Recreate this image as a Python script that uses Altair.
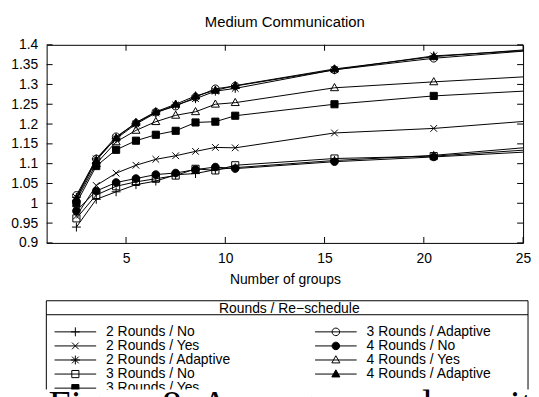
import altair as alt
import pandas as pd

# ---------------- data ----------------
x_groups = [2.5, 3.5, 4.5, 5.5, 6.5, 7.5, 8.5, 9.5, 10.5, 15.5, 20.5, 25]

series_names = [
    "2 Rounds / No", "2 Rounds / Yes", "2 Rounds / Adaptive",
    "3 Rounds / No", "3 Rounds / Yes", "3 Rounds / Adaptive",
    "4 Rounds / No", "4 Rounds / Yes", "4 Rounds / Adaptive",
]

r2_no       = [0.940, 1.010, 1.029, 1.047, 1.056, 1.072, 1.075, 1.085, 1.090, 1.108, 1.121, 1.140]
r2_yes      = [0.968, 1.045, 1.076, 1.096, 1.111, 1.120, 1.131, 1.141, 1.140, 1.1775, 1.189, 1.2065]
r2_adaptive = [1.015, 1.112, 1.163, 1.200, 1.228, 1.248, 1.264, 1.283, 1.290, 1.337, 1.372, 1.385]
r3_no       = [0.962, 1.021, 1.043, 1.054, 1.062, 1.070, 1.087, 1.083, 1.096, 1.113, 1.119, 1.134]
r3_yes      = [1.000, 1.094, 1.135, 1.158, 1.173, 1.183, 1.204, 1.206, 1.221, 1.250, 1.271, 1.283]
r3_adaptive = [1.020, 1.112, 1.168, 1.202, 1.230, 1.245, 1.268, 1.289, 1.296, 1.337, 1.366, 1.384]
r4_no       = [0.981, 1.031, 1.0525, 1.0625, 1.0725, 1.0765, 1.085, 1.0915, 1.0875, 1.105, 1.117, 1.129]
r4_yes      = [1.008, 1.100, 1.155, 1.184, 1.206, 1.222, 1.231, 1.250, 1.254, 1.2915, 1.3065, 1.319]
r4_adaptive = [1.012, 1.108, 1.165, 1.204, 1.231, 1.250, 1.271, 1.285, 1.297, 1.339, 1.370, 1.387]

all_values = [r2_no, r2_yes, r2_adaptive, r3_no, r3_yes, r3_adaptive, r4_no, r4_yes, r4_adaptive]

x_ticks = [5, 10, 15, 20, 25]
y_ticks = [0.9, 0.95, 1.0, 1.05, 1.1, 1.15, 1.2, 1.25, 1.3, 1.35, 1.4]

legend_col = [0, 0, 0, 0, 0, 1, 1, 1, 1]
legend_row = [0, 1, 2, 3, 4, 0, 1, 2, 3]

chart_title = "Medium Communication"
x_title = "Number of groups"
legend_title = "Rounds / Re\u2212schedule"
caption_text = "Figure 8: Average speedup with"

# ---------------- styles ----------------
FONT = "Liberation Sans"
shape_paths = [
    "M-1,0L1,0M0,-1L0,1",                                             # +
    "M-0.75,-0.75L0.75,0.75M-0.75,0.75L0.75,-0.75",                   # x
    "M-1,0L1,0M0,-1L0,1M-0.75,-0.75L0.75,0.75M-0.75,0.75L0.75,-0.75", # *
    "M-0.8,-0.8L0.8,-0.8L0.8,0.8L-0.8,0.8Z",                          # open square
    "M-0.8,-0.8L0.8,-0.8L0.8,0.8L-0.8,0.8Z",                          # filled square
    "M0.85,0A0.85,0.85 0 1,1 -0.85,0A0.85,0.85 0 1,1 0.85,0Z",        # open circle
    "M0.85,0A0.85,0.85 0 1,1 -0.85,0A0.85,0.85 0 1,1 0.85,0Z",        # filled circle
    "M0,-0.95L0.9,0.65L-0.9,0.65Z",                                   # open triangle
    "M0,-0.95L0.9,0.65L-0.9,0.65Z",                                   # filled triangle
]
fill_colors = ["transparent", "transparent", "transparent", "transparent", "black",
               "transparent", "black", "transparent", "black"]

rows = []
for name, vals in zip(series_names, all_values):
    for xv, yv in zip(x_groups, vals):
        rows.append({"series": name, "x": xv, "y": yv})
df = pd.DataFrame(rows)

leg_df = pd.DataFrame({"series": series_names, "col": legend_col, "row": legend_row})

W, H = 481, 200

xs = alt.Scale(domain=[1, 25], nice=False, zero=False)
ys = alt.Scale(domain=[0.9, 1.4], nice=False, zero=False)

ax_x = alt.Axis(values=x_ticks, ticks=False, domain=False, grid=False, labelFlush=False,
                labelFont=FONT, labelFontSize=14, labelColor="black", labelPadding=9,
                title=x_title, titleFont=FONT, titleFontSize=14, titleFontWeight="normal",
                titleColor="black", titlePadding=7)
ax_y = alt.Axis(values=y_ticks, ticks=False, domain=False, grid=False, format="~g",
                labelFont=FONT, labelFontSize=14, labelColor="black", labelPadding=9,
                labelOverlap=False, title=None)

shape_enc = alt.Shape("series:N", scale=alt.Scale(domain=series_names, range=shape_paths), legend=None)
fill_enc = alt.Fill("series:N", scale=alt.Scale(domain=series_names, range=fill_colors), legend=None)

lines = alt.Chart(df).mark_line(color="black", strokeWidth=1).encode(
    x=alt.X("x:Q", scale=xs, axis=ax_x),
    y=alt.Y("y:Q", scale=ys, axis=ax_y),
    detail="series:N",
    order="x:Q",
)

points = alt.Chart(df).transform_filter("datum.x < 25").mark_point(
    filled=True, stroke="black", strokeWidth=1, opacity=1, size=81
).encode(
    x=alt.X("x:Q", scale=xs, axis=ax_x),
    y=alt.Y("y:Q", scale=ys, axis=ax_y),
    shape=shape_enc,
    fill=fill_enc,
)

yt = pd.DataFrame({"v": y_ticks})
xt = pd.DataFrame({"v": x_ticks})
tick_left = alt.Chart(yt).mark_rule(color="black", strokeWidth=1).encode(
    y=alt.Y("v:Q", scale=ys, axis=ax_y), x=alt.value(0), x2=alt.value(6))
tick_right = alt.Chart(yt).mark_rule(color="black", strokeWidth=1).encode(
    y=alt.Y("v:Q", scale=ys, axis=ax_y), x=alt.value(W - 6), x2=alt.value(W))
tick_bottom = alt.Chart(xt).mark_rule(color="black", strokeWidth=1).encode(
    x=alt.X("v:Q", scale=xs, axis=ax_x), y=alt.value(H - 6), y2=alt.value(H))
tick_top = alt.Chart(xt).mark_rule(color="black", strokeWidth=1).encode(
    x=alt.X("v:Q", scale=xs, axis=ax_x), y=alt.value(0), y2=alt.value(6))

main = alt.layer(tick_left, tick_right, tick_bottom, tick_top, lines, points)

# ---------------- title, legend (below plot), caption ----------------
one = pd.DataFrame({"a": [0]})
lx = alt.Scale(domain=[0, 1], range=[8, 271], nice=False, zero=False)
ly = alt.Scale(domain=[0, 4], range=[289.8, 346.6], nice=False, zero=False)

title_mark = alt.Chart(one).mark_text(
    text=chart_title, font=FONT, fontSize=15, color="black", align="center", baseline="alphabetic"
).encode(x=alt.value(W / 2), y=alt.value(-17.8))

frame = alt.Chart(one).mark_rect(fill="white", stroke="black", strokeWidth=1).encode(
    x=alt.value(-0.3), x2=alt.value(486), y=alt.value(258.4), y2=alt.value(420))
divider = alt.Chart(one).mark_rule(color="black", strokeWidth=1).encode(
    x=alt.value(-0.3), x2=alt.value(486), y=alt.value(272.5))
leg_title = alt.Chart(one).mark_text(
    text=legend_title, font=FONT, fontSize=14, color="black", align="center", baseline="alphabetic"
).encode(x=alt.value(245), y=alt.value(271))

leg_lines = alt.Chart(leg_df).mark_rule(color="black", strokeWidth=1, x2Offset=42).encode(
    x=alt.X("col:Q", scale=lx, axis=None), x2="col:Q",
    y=alt.Y("row:Q", scale=ly, axis=None))
leg_points = alt.Chart(leg_df).mark_point(
    filled=True, stroke="black", strokeWidth=1, opacity=1, size=81, xOffset=21
).encode(
    x=alt.X("col:Q", scale=lx, axis=None),
    y=alt.Y("row:Q", scale=ly, axis=None),
    shape=shape_enc, fill=fill_enc)
leg_text = alt.Chart(leg_df).mark_text(
    font=FONT, fontSize=14, color="black", align="left", baseline="middle", xOffset=52
).encode(
    x=alt.X("col:Q", scale=lx, axis=None),
    y=alt.Y("row:Q", scale=ly, axis=None),
    text="series:N")

cap_bg = alt.Chart(one).mark_rect(fill="white", stroke=None).encode(
    x=alt.value(-40), x2=alt.value(500), y=alt.value(348), y2=alt.value(400))
caption = alt.Chart(one).mark_text(
    text=caption_text, font="Liberation Serif", fontSize=40, color="black",
    align="left", baseline="alphabetic"
).encode(x=alt.value(2), y=alt.value(377))

legend = alt.layer(title_mark, frame, divider, leg_title, leg_lines, leg_points, leg_text,
                   cap_bg, caption)

chart = alt.layer(main, legend).resolve_scale(x="independent", y="independent").properties(
    width=W, height=H,
    autosize=alt.AutoSizeParams(type="none"),
    padding={"left": 39, "top": 35.3, "right": 8, "bottom": 153.7},
).configure_view(stroke="black", strokeWidth=1)

chart.save("out.html", embed_options={"renderer": "svg", "actions": False})
